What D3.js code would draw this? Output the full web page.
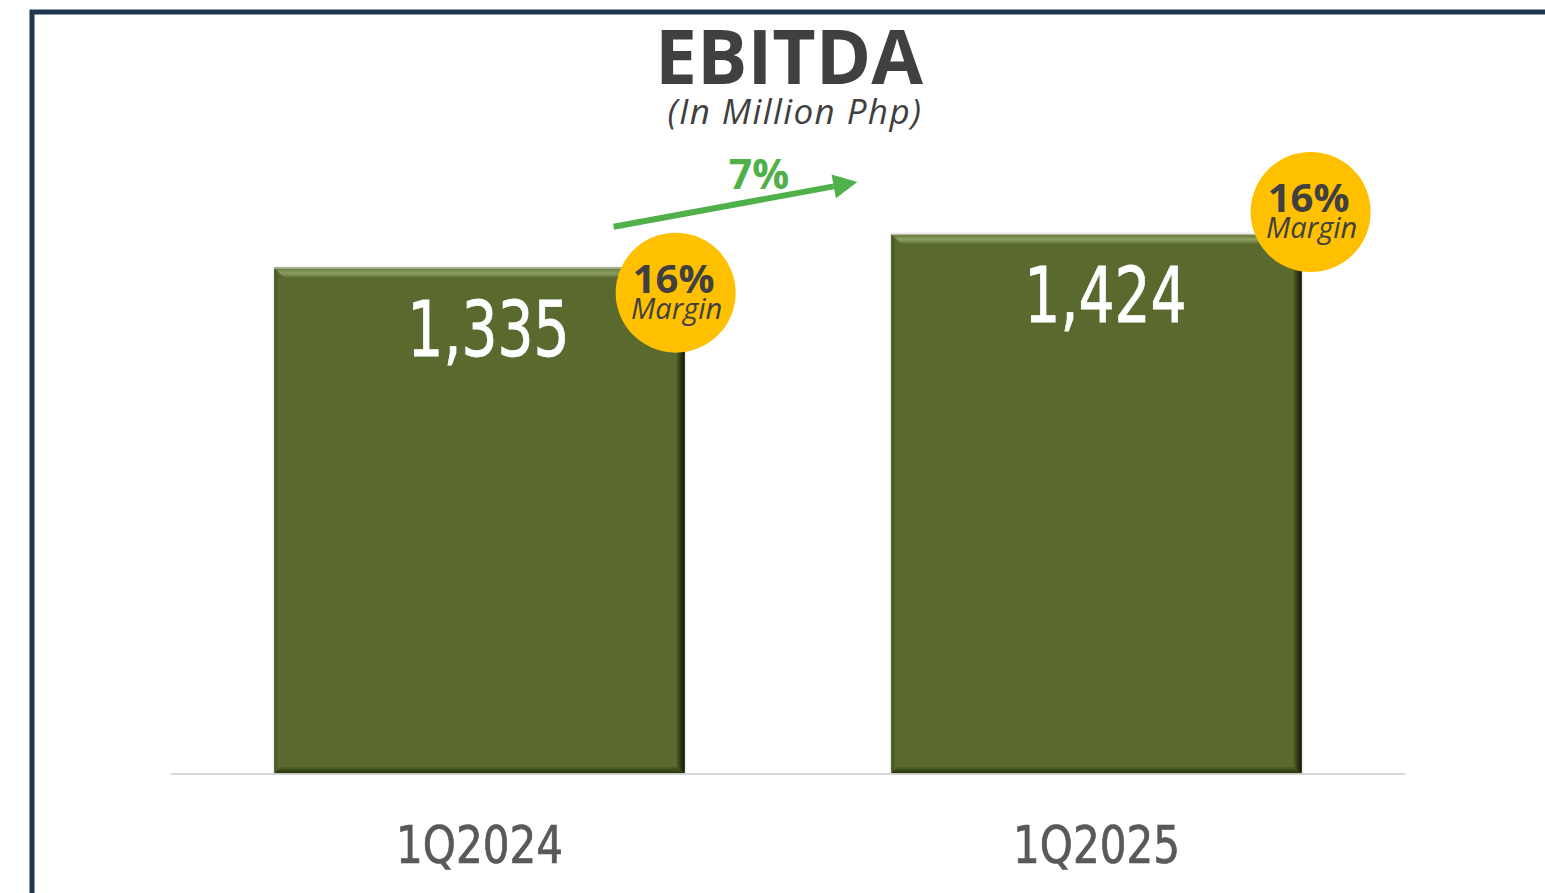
<!DOCTYPE html>
<html>
<head>
<meta charset="utf-8">
<script src="https://cdn.jsdelivr.net/npm/d3@7"></script>
<style>
  html, body { margin: 0; padding: 0; background: #ffffff; }
  svg { display: block; }
</style>
</head>
<body>
<svg id="chart" width="1545" height="893"></svg>
<script>
// ---- Data ----
const categories = ["1Q2024", "1Q2025"];
const ebitdaValues = [1335, 1424];
const valueLabels = ["1,335", "1,424"];
const marginLabels = ["16%", "16%"];
const growthLabel = "7%";
const titleText = "EBITDA";
const subtitleText = "(In Million Php)";

// ---- Layout ----
const W = 1545, H = 893;
const plot = { left: 171, right: 1405, baseline: 773 };
const svg = d3.select("#chart");

const x = d3.scaleBand()
  .domain(categories)
  .range([plot.left, plot.right])
  .paddingInner(0.335)
  .paddingOuter(0.1675);

const y = d3.scaleLinear()
  .domain([0, 1424])
  .range([plot.baseline, plot.baseline - 539]);

const defs = svg.append("defs");
function lg(id, x1, y1, x2, y2, stops) {
  const g = defs.append("linearGradient").attr("id", id)
    .attr("x1", x1).attr("y1", y1).attr("x2", x2).attr("y2", y2);
  stops.forEach(s => g.append("stop").attr("offset", s[0]).attr("stop-color", s[1]));
}
lg("bevTop", 0, 0, 0, 1, [[0, "#62743a"], [0.55, "#8c9e60"], [1, "#5c6e30"]]);
lg("bevRight", 0, 0, 1, 0, [[0, "#4f6027"], [0.5, "#2f3a14"], [1, "#10150a"]]);
lg("bevBottom", 0, 0, 0, 1, [[0, "#4e5f25"], [1, "#2a3411"]]);
lg("bevLeft", 0, 0, 1, 0, [[0, "#44531f"], [1, "#57692c"]]);

const filt = defs.append("filter").attr("id", "shadow").attr("x", "-10%").attr("y", "-10%").attr("width", "120%").attr("height", "120%");
filt.append("feDropShadow").attr("dx", 0).attr("dy", 0).attr("stdDeviation", 1.2).attr("flood-color", "#000").attr("flood-opacity", 0.3);

// ---- Frame ----
svg.append("path")
  .attr("d", `M32,${H} L32,12 L${W},12`)
  .attr("fill", "none")
  .attr("stroke", "#1f3550")
  .attr("stroke-width", 5);

// ---- Title ----
svg.append("text")
  .attr("x", 789).attr("y", 84)
  .attr("text-anchor", "middle")
  .attr("font-family", "'Open Sans', 'Noto Sans', sans-serif")
  .attr("font-weight", 700)
  .attr("font-size", 75)
  .attr("fill", "#404040")
  .text(titleText);

svg.append("text")
  .attr("x", 795).attr("y", 124)
  .attr("text-anchor", "middle")
  .attr("font-family", "'Open Sans', 'Noto Sans', sans-serif")
  .attr("font-style", "italic")
  .attr("font-size", 35)
  .attr("letter-spacing", 1.4)
  .attr("fill", "#404040")
  .text(subtitleText);

// ---- Baseline ----
svg.append("line")
  .attr("x1", plot.left).attr("x2", plot.right)
  .attr("y1", plot.baseline + 1).attr("y2", plot.baseline + 1)
  .attr("stroke", "#d9d9d9").attr("stroke-width", 2);

// ---- Bars ----
const bevT = 10, bev = 8, bevB = 6;
const bars = svg.append("g").selectAll("g.bar")
  .data(categories.map((c, i) => ({ c, v: ebitdaValues[i], i })))
  .join("g").attr("class", "bar");

bars.each(function(d) {
  const g = d3.select(this);
  const x0 = x(d.c), x1 = x0 + x.bandwidth();
  const y0 = y(d.v), y1 = y(0);
  g.append("rect")
    .attr("x", x0).attr("y", y0)
    .attr("width", x1 - x0).attr("height", y1 - y0)
    .attr("fill", "#5a6b2e")
    .attr("filter", "url(#shadow)");
  const poly = pts => pts.map(p => p.join(",")).join(" ");
  g.append("polygon").attr("points", poly([[x0, y0], [x0 + 4, y0 + 4], [x0 + 4, y1 - 4], [x0, y1]]))
    .attr("fill", "url(#bevLeft)");
  g.append("polygon").attr("points", poly([[x0, y1], [x0 + bevB, y1 - bevB], [x1 - bevB, y1 - bevB], [x1, y1]]))
    .attr("fill", "url(#bevBottom)");
  g.append("polygon").attr("points", poly([[x1, y0], [x1, y1], [x1 - bev, y1 - bevB], [x1 - bev, y0 + bevT]]))
    .attr("fill", "url(#bevRight)");
  g.append("polygon").attr("points", poly([[x0, y0], [x1, y0], [x1 - bev, y0 + bevT], [x0 + bevT, y0 + bevT]]))
    .attr("fill", "url(#bevTop)");
  g.append("line").attr("x1", x0).attr("x2", x1).attr("y1", y0 + 0.5).attr("y2", y0 + 0.5)
    .attr("stroke", "#b9c2a6").attr("stroke-width", 1);

  // value label (narrow, DIN-like)
  const vx = x0 + x.bandwidth() / 2 + 9, vy = y0 + 88;
  g.append("text")
    .attr("transform", `translate(${vx},${vy}) scale(0.83,1)`)
    .attr("text-anchor", "middle")
    .attr("font-family", "'DejaVu Sans Condensed', 'DejaVu Sans', sans-serif")
    .attr("font-size", 76)
    .attr("fill", "#ffffff")
    .attr("stroke", "#ffffff")
    .attr("stroke-width", 0.8)
    .text(valueLabels[d.i]);

  // category label
  const cx = x0 + x.bandwidth() / 2, cy = plot.baseline + 90;
  g.append("text")
    .attr("transform", `translate(${cx},${cy}) scale(0.9,1)`)
    .attr("text-anchor", "middle")
    .attr("font-family", "'DejaVu Sans Condensed', 'DejaVu Sans', sans-serif")
    .attr("font-size", 52)
    .attr("fill", "#595959")
    .attr("stroke", "#595959")
    .attr("stroke-width", 0.7)
    .text(d.c);
});

// ---- Margin circles ----
const circleOffsets = [[-9, 25], [9, -22]];
categories.forEach((c, i) => {
  const cx = x(c) + x.bandwidth() + circleOffsets[i][0];
  const cy = y(ebitdaValues[i]) + circleOffsets[i][1];
  const g = svg.append("g");
  g.append("circle").attr("cx", cx).attr("cy", cy).attr("r", 60).attr("fill", "#ffc000");
  g.append("text")
    .attr("x", cx - 2).attr("y", cy + 0)
    .attr("text-anchor", "middle")
    .attr("font-family", "'Open Sans', 'Noto Sans', sans-serif")
    .attr("font-weight", 700)
    .attr("font-size", 40)
    .attr("fill", "#404040")
    .text(marginLabels[i]);
  g.append("text")
    .attr("x", cx + 1).attr("y", cy + 26)
    .attr("text-anchor", "middle")
    .attr("font-family", "'Open Sans', 'Noto Sans', sans-serif")
    .attr("font-style", "italic")
    .attr("font-size", 29)
    .attr("fill", "#404040")
    .text("Margin");
});

// ---- Growth arrow ----
const ax0 = x(categories[0]) + x.bandwidth() - 71, ay0 = y(ebitdaValues[0]) - 41;
const ax1 = x(categories[1]) - 34, ay1 = y(ebitdaValues[1]) - 52;
const ang = Math.atan2(ay1 - ay0, ax1 - ax0);
const headLen = 24, headHalf = 12;
const bx = ax1 - headLen * Math.cos(ang), by = ay1 - headLen * Math.sin(ang);
svg.append("line")
  .attr("x1", ax0).attr("y1", ay0).attr("x2", bx).attr("y2", by)
  .attr("stroke", "#50b04a").attr("stroke-width", 6);
svg.append("polygon")
  .attr("points", [
    [ax1, ay1],
    [bx + headHalf * Math.sin(ang), by - headHalf * Math.cos(ang)],
    [bx - headHalf * Math.sin(ang), by + headHalf * Math.cos(ang)]
  ].map(p => p.join(",")).join(" "))
  .attr("fill", "#50b04a");
svg.append("text")
  .attr("x", 759).attr("y", 189)
  .attr("text-anchor", "middle")
  .attr("font-family", "'Open Sans', 'Noto Sans', sans-serif")
  .attr("font-weight", 700)
  .attr("font-size", 41)
  .attr("fill", "#50b04a")
  .text(growthLabel);
</script>
</body>
</html>
